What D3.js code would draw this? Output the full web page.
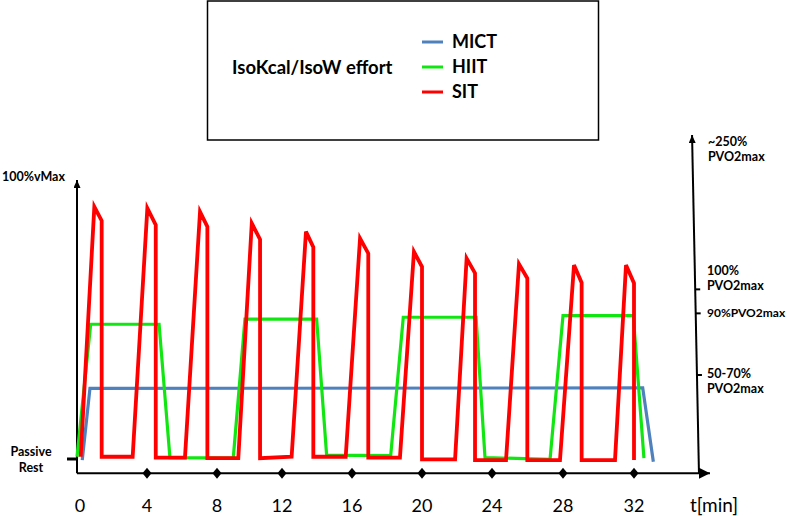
<!DOCTYPE html>
<html>
<head>
<meta charset="utf-8">
<script src="https://cdn.jsdelivr.net/npm/d3@7"></script>
<style>
  body { margin: 0; background: #fff; }
  svg { display: block; font-family: Lato, "Open Sans", sans-serif; }
</style>
</head>
<body>
<svg id="chart" width="787" height="516"></svg>
<script>
// time in minutes, effort as % of vMax (0 = passive rest)
var minuteTicks = [0, 4, 8, 12, 16, 20, 24, 28, 32];
// the hand-drawn time axis is not quite even, so each tick gets its own pixel
var minutePixels = [77, 147, 217, 282, 352, 422, 492, 563, 634];

var sitTime = [0.21, 0.99, 1.41, 1.41, 3.18, 4.02, 4.50, 4.50, 6.17, 7.03, 7.45, 7.45, 9.31, 10.14, 10.65, 10.65,
  12.55, 13.37, 13.79, 13.79, 15.64, 16.46, 16.93, 16.93, 18.74, 19.54, 20.0, 20.0, 21.89, 22.55, 23.03, 23.03,
  24.79, 25.52, 25.99, 25.99, 27.83, 28.62, 29.05, 29.05, 30.93, 31.55, 32.0, 32.0];
var sitEffort = [0.8, 90.4, 85.4, 0.8, 0.8, 89.9, 83.9, 0.5, 0.5, 88.6, 83.3, 0.3, 0.3, 84.5, 78.7, 0.3,
  0.8, 81.5, 75.9, 0.8, 0.8, 79.1, 73.7, 0.5, 0.5, 74.3, 68.9, -0.1, -0.1, 71.9, 66.6, -0.4,
  -0.4, 69.9, 64.8, -0.4, -0.4, 69.5, 63.2, -0.4, -0.4, 69.5, 63.0, -0.4];

var hiitTime = [0, 0.78, 4.69, 5.31, 9.0, 9.72, 13.98, 14.55, 18.21, 18.93, 23.09, 23.6, 27.27, 28.0, 31.96, 32.56];
var hiitEffort = [0.8, 48.3, 48.3, 0.5, 0.3, 50.1, 50.1, 1.4, 1.2, 50.8, 50.8, 0.5, -0.1, 51.4, 51.4, 0.3];

var mictTime = [0.30, 0.74, 32.49, 33.09];
var mictEffort = [-0.4, 25.3, 25.5, -1.0];

var seriesNames = ["MICT", "HIIT", "SIT"];
var seriesColors = ["#4f81bd", "#12e612", "#ff0000"];

// right-hand axis (power) marks, on the same effort scale
var powerTickEffort = [60.8, 52.2, 30.1];
var powerTickLabels = [["100%", "PVO2max"], ["90%PVO2max"], ["50-70%", "PVO2max"]];

var svg = d3.select("#chart");

var x = d3.scaleLinear().domain(minuteTicks).range(minutePixels);
var y = d3.scaleLinear().domain([0, 100]).range([459, 180]);

var axisY = y(-5.1);

// arrow heads
var defs = svg.append("defs");
function arrow(id, len, wid) {
    defs.append("marker")
        .attr("id", id)
        .attr("markerUnits", "userSpaceOnUse")
        .attr("viewBox", "0 0 " + len + " " + wid)
        .attr("refX", len).attr("refY", wid / 2)
        .attr("markerWidth", len).attr("markerHeight", wid)
        .attr("orient", "auto")
        .append("path")
        .attr("d", "M0,0L" + len + "," + (wid / 2) + "L0," + wid + "Z")
        .attr("fill", "#000");
}
arrow("arrowBig", 11, 11);
arrow("arrowSmall", 8, 7);

// legend box
svg.append("rect")
    .attr("x", 207.5).attr("y", 1).attr("width", 391).attr("height", 139)
    .attr("fill", "none").attr("stroke", "#000").attr("stroke-width", 1.5);

svg.append("text")
    .attr("x", 232).attr("y", 74)
    .attr("font-size", 18.5).attr("font-weight", "bold")
    .text("IsoKcal/IsoW effort");

var legend = svg.append("g").selectAll("g")
    .data(seriesNames)
    .join("g")
    .attr("transform", function (d, i) { return "translate(422," + (42 + i * 25) + ")"; });
legend.append("line")
    .attr("x1", 0).attr("x2", 21)
    .attr("stroke", function (d, i) { return seriesColors[i]; })
    .attr("stroke-width", 3);
legend.append("text")
    .attr("x", 30).attr("dy", "0.36em")
    .attr("font-size", 18).attr("font-weight", "bold")
    .text(function (d) { return d; });

// axes
svg.append("line")
    .attr("x1", x(0)).attr("y1", axisY).attr("x2", x(36.28)).attr("y2", axisY)
    .attr("stroke", "#000").attr("stroke-width", 2)
    .attr("marker-end", "url(#arrowBig)");

svg.append("line")
    .attr("x1", x(0)).attr("y1", axisY).attr("x2", x(0)).attr("y2", y(100))
    .attr("stroke", "#000").attr("stroke-width", 2)
    .attr("marker-end", "url(#arrowSmall)");

svg.append("line")
    .attr("x1", x(35.66)).attr("y1", axisY).attr("x2", x(35.27)).attr("y2", y(116.1))
    .attr("stroke", "#000").attr("stroke-width", 2)
    .attr("marker-end", "url(#arrowSmall)");

// passive rest mark
svg.append("line")
    .attr("x1", x(-0.57)).attr("x2", x(0)).attr("y1", y(0)).attr("y2", y(0))
    .attr("stroke", "#000").attr("stroke-width", 3);

// minute markers and labels
svg.append("g").selectAll("path")
    .data(minuteTicks.slice(1))
    .join("path")
    .attr("transform", function (d) { return "translate(" + x(d) + "," + axisY + ")"; })
    .attr("d", "M0,-5.5L4.5,0L0,5.5L-4.5,0Z")
    .attr("fill", "#000");

svg.append("g").selectAll("text")
    .data(minuteTicks)
    .join("text")
    .attr("x", function (d) { return x(d) + (d === 0 ? 3 : 0); })
    .attr("y", 512)
    .attr("text-anchor", "middle")
    .attr("font-size", 18)
    .text(function (d) { return d; });

svg.append("text")
    .attr("x", 714).attr("y", 512)
    .attr("text-anchor", "middle")
    .attr("font-size", 19)
    .text("t[min]");

// left labels
svg.append("text")
    .attr("x", 2).attr("y", y(100) + 1)
    .attr("font-size", 12.5).attr("font-weight", "bold")
    .text("100%vMax");

var rest = svg.append("text")
    .attr("text-anchor", "middle")
    .attr("font-size", 12.5).attr("font-weight", "bold");
rest.append("tspan").attr("x", 31).attr("y", y(0) - 3).text("Passive");
rest.append("tspan").attr("x", 31).attr("y", y(0) + 13).text("Rest");

// right labels
function rightAxisX(v) {
    // the right axis leans a little; follow it
    var t = 35.66 + (35.27 - 35.66) * (v + 5.1) / (116.1 + 5.1);
    return x(t);
}
var topLabel = svg.append("text")
    .attr("font-size", 12.5).attr("font-weight", "bold");
topLabel.append("tspan").attr("x", 708).attr("y", y(116.1) + 11).text("~250%");
topLabel.append("tspan").attr("x", 708).attr("y", y(116.1) + 26).text("PVO2max");

powerTickEffort.forEach(function (v, i) {
    var ax = rightAxisX(v);
    svg.append("line")
        .attr("x1", ax).attr("x2", ax + 5)
        .attr("y1", y(v)).attr("y2", y(v))
        .attr("stroke", "#000").attr("stroke-width", 2);
    var lines = powerTickLabels[i];
    var t = svg.append("text")
        .attr("font-size", lines.length === 1 ? 12 : 12.5).attr("font-weight", "bold");
    lines.forEach(function (s, k) {
        var base;
        if (lines.length === 1) base = y(v) + 4;
        else if (i === 0) base = y(v) - 14 + k * 15;
        else base = y(v) + 3 + k * 15;
        t.append("tspan").attr("x", 707).attr("y", base).text(s);
    });
});

// effort lines
var line = d3.line()
    .x(function (d) { return x(d[0]); })
    .y(function (d) { return y(d[1]); });

function pairs(ts, vs) {
    return ts.map(function (t, i) { return [t, vs[i]]; });
}

var seriesData = [pairs(mictTime, mictEffort), pairs(hiitTime, hiitEffort), pairs(sitTime, sitEffort)];
var seriesWidths = [3.2, 3.2, 3.8];

svg.append("g").selectAll("path")
    .data(seriesData)
    .join("path")
    .attr("d", line)
    .attr("fill", "none")
    .attr("stroke", function (d, i) { return seriesColors[i]; })
    .attr("stroke-width", function (d, i) { return seriesWidths[i]; })
    .attr("stroke-linejoin", "miter");
</script>
</body>
</html>
